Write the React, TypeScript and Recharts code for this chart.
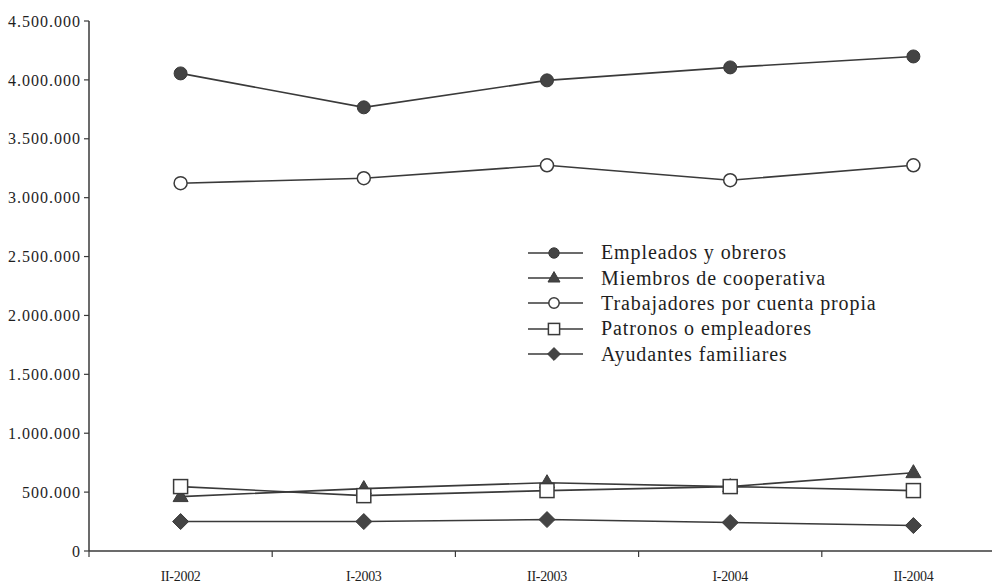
import React from "react";
import { LineChart, Line, XAxis, YAxis, Legend } from "recharts";

// Categories and series values
const periods = ["II-2002", "I-2003", "II-2003", "I-2004", "II-2004"];
const empleados = [4055000, 3767000, 3996000, 4106000, 4199000];
const miembros = [462000, 530000, 580000, 547000, 665000];
const trabajadores = [3123000, 3165000, 3275000, 3148000, 3275000];
const patronos = [547000, 470000, 513000, 547000, 513000];
const ayudantes = [250000, 250000, 267000, 242000, 216000];

const yTicks = [0, 500000, 1000000, 1500000, 2000000, 2500000, 3000000, 3500000, 4000000, 4500000];
const dividerTicks = [-0.5, 0.5, 1.5, 2.5, 3.5, 4.5];
const labelTicks = [0, 1, 2, 3, 4];

const INK = "#3a3a3a";
const TEXT = "#1e1e1e";
const FONT = "'Liberation Serif', serif";

const series = [
	{ key: "empleados", name: "Empleados y obreros", shape: "dot" },
	{ key: "miembros", name: "Miembros de cooperativa", shape: "triangle" },
	{ key: "trabajadores", name: "Trabajadores por cuenta propia", shape: "circle" },
	{ key: "patronos", name: "Patronos o empleadores", shape: "square" },
	{ key: "ayudantes", name: "Ayudantes familiares", shape: "diamond" },
];

const data = periods.map((p, i) => ({
	x: i,
	periodo: p,
	empleados: empleados[i],
	miembros: miembros[i],
	trabajadores: trabajadores[i],
	patronos: patronos[i],
	ayudantes: ayudantes[i],
}));

const fmt = (v: number) => String(v).replace(/\B(?=(\d{3})+(?!\d))/g, ".");

function Marker({ shape, cx, cy, k = 1 }: { shape: string; cx: number; cy: number; k?: number }) {
	if (cx == null || cy == null) return null;
	switch (shape) {
		case "dot":
			return <circle cx={cx} cy={cy} r={6.5 * k} fill="#444" stroke={INK} strokeWidth={1} />;
		case "circle":
			return <circle cx={cx} cy={cy} r={6.5 * k} fill="#fff" stroke={INK} strokeWidth={1.5} />;
		case "square":
			return <rect x={cx - 7 * k} y={cy - 7 * k} width={14 * k} height={14 * k} fill="#fff" stroke={INK} strokeWidth={1.5} />;
		case "triangle":
			return (
				<polygon
					points={`${cx},${cy - 8 * k} ${cx + 7.5 * k},${cy + 5 * k} ${cx - 7.5 * k},${cy + 5 * k}`}
					fill="#444"
					stroke={INK}
					strokeWidth={1}
				/>
			);
		case "diamond":
			return (
				<polygon
					points={`${cx},${cy - 8 * k} ${cx + 8 * k},${cy} ${cx},${cy + 8 * k} ${cx - 8 * k},${cy}`}
					fill="#444"
					stroke={INK}
					strokeWidth={1}
				/>
			);
		default:
			return null;
	}
}

// legend keeps the series order of the original
const LegendBox = ({ payload }: any) => {
	const items = series.filter((s) => (payload || []).some((e: any) => e.dataKey === s.key));
	return (
		<div style={{ fontFamily: FONT, fontSize: 20, color: TEXT, letterSpacing: 0.9 }}>
			{items.map((s) => (
				<div key={s.key} style={{ display: "flex", alignItems: "center", height: 25.4 }}>
					<svg width={58} height={20} style={{ marginRight: 16 }}>
						<line x1={1} y1={10} x2={56} y2={10} stroke={INK} strokeWidth={1.6} />
						<Marker shape={s.shape} cx={27} cy={10} k={0.8} />
					</svg>
					<span style={{ lineHeight: "25px" }}>{s.name}</span>
				</div>
			))}
		</div>
	);
};

// tick lines only, no text (the labels live on the second axis)
const NoLabel = () => <g />;

export default function App() {
	return (
		<div style={{ position: "absolute", left: 0, top: 0, width: 992, height: 584, overflow: "hidden", background: "#fff" }}>
			<LineChart width={1020} height={584} data={data} margin={{ top: 21, right: 15, left: 0, bottom: 0 }}>
				<XAxis
					xAxisId="a_ticks"
					type="number"
					dataKey="x"
					domain={[-0.5, 4.5]}
					ticks={dividerTicks}
					tick={<NoLabel />}
					tickSize={6}
					height={6}
					axisLine={{ stroke: INK, strokeWidth: 1.5 }}
					tickLine={{ stroke: INK, strokeWidth: 1.2 }}
				/>
				<XAxis
					xAxisId="b_labels"
					type="number"
					dataKey="x"
					domain={[-0.5, 4.5]}
					ticks={labelTicks}
					tickFormatter={(i: number) => periods[i]}
					axisLine={false}
					tickLine={false}
					tickSize={0}
					tickMargin={14}
					height={27}
					tick={{ fontFamily: FONT, fontSize: 14, fill: TEXT, letterSpacing: -0.3 }}
				/>
				<YAxis
					type="number"
					domain={[0, 4500000]}
					ticks={yTicks}
					tickFormatter={fmt}
					width={89}
					tickSize={5}
					tickMargin={3}
					axisLine={{ stroke: INK, strokeWidth: 1.5 }}
					tickLine={{ stroke: INK, strokeWidth: 1.2 }}
					tick={{ fontFamily: FONT, fontSize: 16, fill: TEXT, letterSpacing: 1 }}
				/>
				<Legend
					layout="vertical"
					verticalAlign="middle"
					align="center"
					content={<LegendBox />}
					wrapperStyle={{ position: "absolute", left: 527, top: 240, width: 380 }}
				/>
				{series.map((s) => (
					<Line
						key={s.key}
						xAxisId="a_ticks"
						dataKey={s.key}
						name={s.name}
						stroke={INK}
						strokeWidth={1.6}
						isAnimationActive={false}
						dot={(p: any) => <Marker key={`${s.key}-${p.index}`} shape={s.shape} cx={p.cx} cy={p.cy} />}
						activeDot={false}
					/>
				))}
			</LineChart>
		</div>
	);
}
